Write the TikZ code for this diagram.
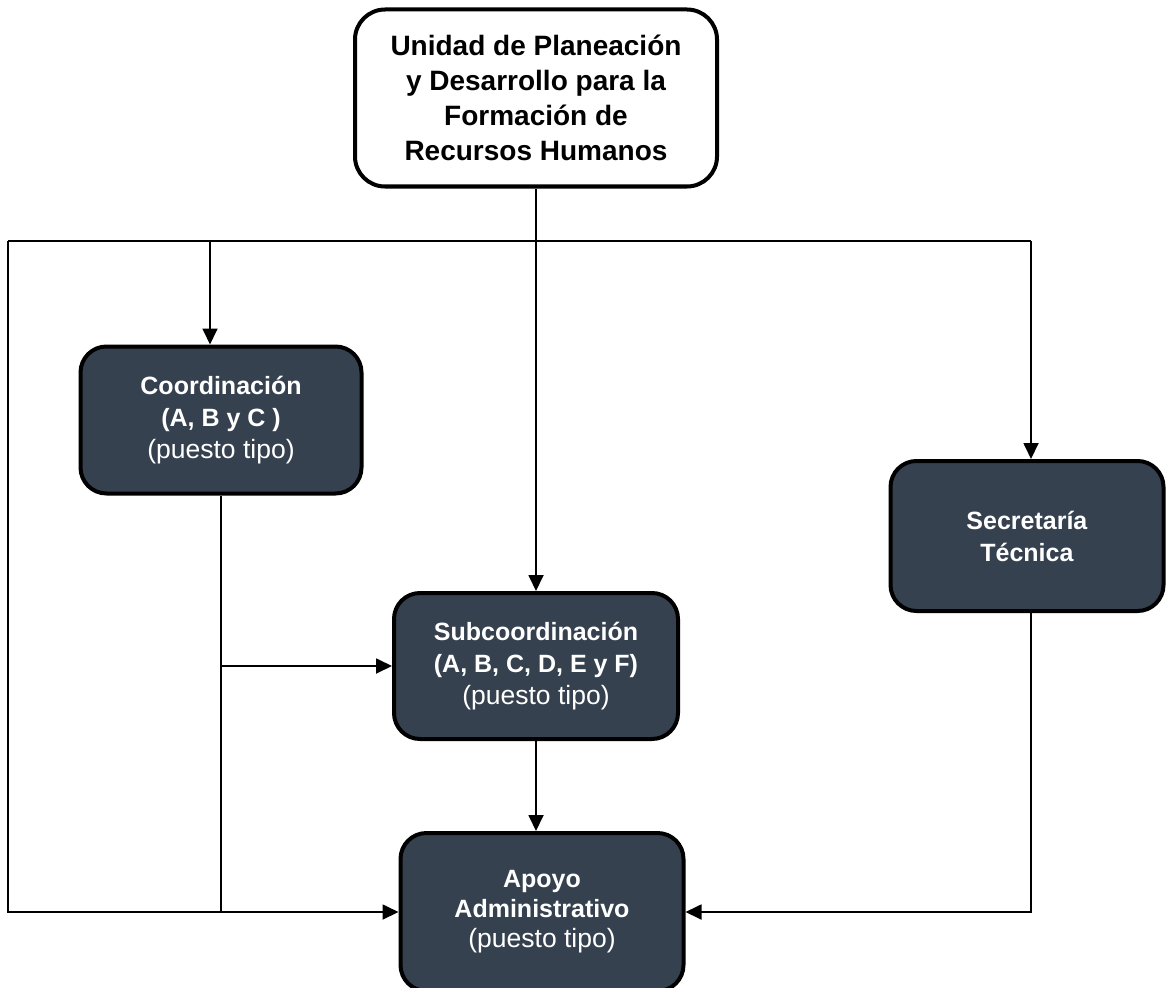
\documentclass[tikz,border=0pt]{standalone}
\usepackage{fontspec}
\setmainfont{Liberation Sans}
\usetikzlibrary{arrows.meta,calc}
\definecolor{boxdark}{HTML}{36414F}
\tikzset{
  topbox/.style={draw=black, line width=4pt, fill=white, rounded corners=30pt,
    minimum width=362pt, minimum height=177pt, align=center, inner sep=0pt,
    font=\fontsize{28pt}{35pt}\selectfont\bfseries},
  darkbox/.style={draw=black, line width=4pt, fill=boxdark, rounded corners=26pt,
    minimum width=281pt, minimum height=147pt, align=center, inner sep=0pt, text=white,
    font=\fontsize{25pt}{32pt}\selectfont},
  conn/.style={line width=1.8pt, draw=black},
  arr/.style={conn, -{Triangle[length=16pt,width=15pt]}}
}
\newcommand{\pt}{{\fontsize{26.5pt}{32pt}\selectfont (puesto tipo)}}
\begin{document}
\begin{tikzpicture}[x=1pt,y=-1pt]
\useasboundingbox (0,0) rectangle (1166,987);
\node[topbox] (top) at (536,98) {Unidad de Planeación\\y Desarrollo para la\\Formación de\\Recursos Humanos};
\node[darkbox] (coord) at (221,420) {\textbf{Coordinación}\\\textbf{(A, B y C )}\\\pt};
\node[darkbox, minimum width=273pt, minimum height=150pt] (sec) at (1027,536) {\textbf{Secretaría}\\\textbf{Técnica}};
\node[darkbox, minimum width=284pt, minimum height=146pt] (sub) at (536,666) {\textbf{Subcoordinación}\\\textbf{(A, B, C, D, E y F)}\\\pt};
\node[darkbox, minimum width=283pt, minimum height=158pt, font=\fontsize{25pt}{30pt}\selectfont] (apoyo) at (542,912) {\textbf{Apoyo}\\\textbf{Administrativo}\\\pt};
\coordinate (jL) at (8,241);
\coordinate (jR) at (1031,241);
\coordinate (jC) at (210,241);
\draw[conn] (jL) -- (jR);
\draw[arr] (top.south) -- (sub.north);
\draw[arr] (jC) -- (jC |- coord.north);
\draw[arr] (jR) -- (jR |- sec.north);
\draw[arr] (jL) |- (apoyo.west);
\draw[conn] (coord.south) -- (coord.south |- apoyo.west);
\draw[arr] (coord.south |- sub.west) -- (sub.west);
\draw[arr] (jR |- sec.south) |- (apoyo.east);
\draw[arr] (sub.south) -- (sub.south |- apoyo.north);
\end{tikzpicture}
\end{document}
